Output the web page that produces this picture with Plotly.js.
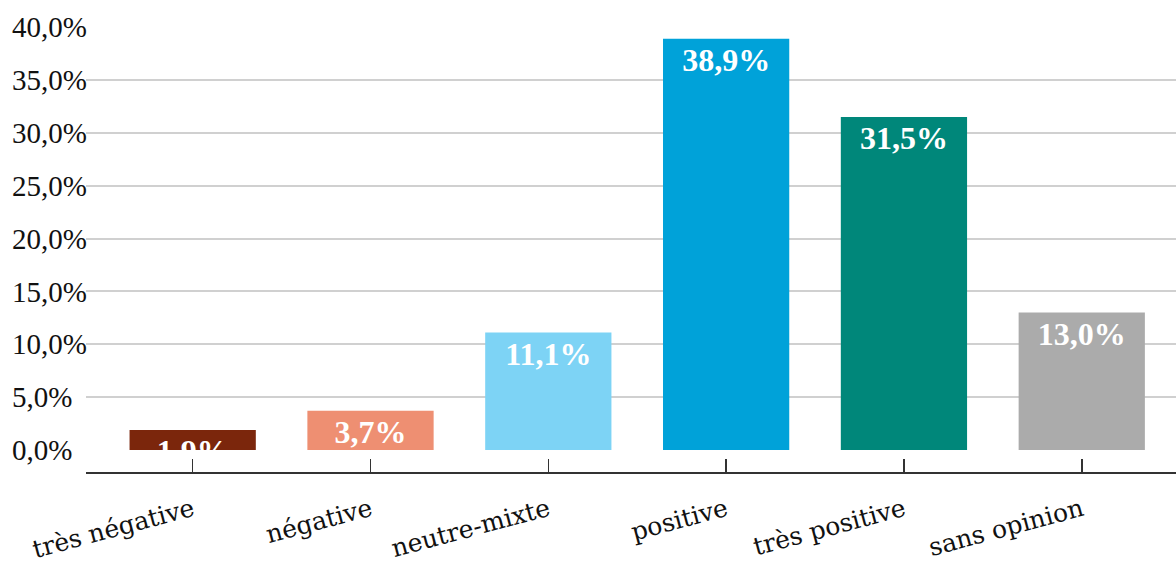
<!DOCTYPE html>
<html><head><meta charset="utf-8">
<script src="https://cdn.plot.ly/plotly-3.0.1.min.js"></script>
<style>html,body{margin:0;padding:0;background:#fff}#chart{width:1176px;height:563px}</style>
</head><body><div id="chart"></div>
<script>
const categories = ['très négative', 'négative', 'neutre-mixte', 'positive', 'très positive', 'sans opinion'];
const values = [1.9, 3.7, 11.1, 38.9, 31.5, 13.0];
const barColors = ['#7B260C', '#EE8F72', '#7DD3F5', '#00A2D9', '#00877A', '#ABABAB'];
const yTicks = [0, 5, 10, 15, 20, 25, 30, 35, 40];

const labels = values.map(v => v.toFixed(1).replace('.', ',') + '%');

const trace = {
  type: 'bar',
  x: categories,
  y: values,
  marker: {color: barColors, line: {width: 0}},
  text: labels,
  textposition: 'inside',
  insidetextanchor: 'end',
  textangle: 0,
  constraintext: 'none',
  cliponaxis: true,
  textfont: {family: 'Liberation Serif', size: 32, color: '#ffffff', weight: 'bold'},
  hoverinfo: 'none'
};

const layout = {
  width: 1176, height: 563,
  margin: {l: 8, r: 0, t: 27, b: 91},
  paper_bgcolor: '#ffffff', plot_bgcolor: '#ffffff',
  separators: ', ',
  bargap: 0.29,
  showlegend: false,
  xaxis: {
    type: 'category',
    domain: [78/1168, 1],
    range: [-0.6, 5.53],
    anchor: 'free', position: 0,
    showline: true, linecolor: '#333333', linewidth: 1.5,
    ticks: 'inside', ticklen: 13, tickwidth: 1.5, tickcolor: '#333333',
    tickangle: -15,
    ticklabelstandoff: 12,
    tickfont: {family: 'DejaVu Serif', size: 25, color: '#111111'},
    showgrid: false, zeroline: false
  },
  yaxis: {
    domain: [22/445, 1],
    range: [0, 40],
    anchor: 'free', position: 0,
    tickvals: yTicks,
    ticktext: yTicks.map(v => v.toFixed(1).replace('.', ',') + '%'),
    ticklabelposition: 'inside',
    ticklabeloverflow: 'allow',
    ticks: '',
    showline: false,
    showgrid: true, gridcolor: '#d0d0d0', gridwidth: 2,
    zeroline: false,
    tickfont: {family: 'Liberation Serif', size: 29, color: '#111111'}
  }
};

Plotly.newPlot('chart', [trace], layout, {displayModeBar: false, staticPlot: true});
</script>
</body></html>
